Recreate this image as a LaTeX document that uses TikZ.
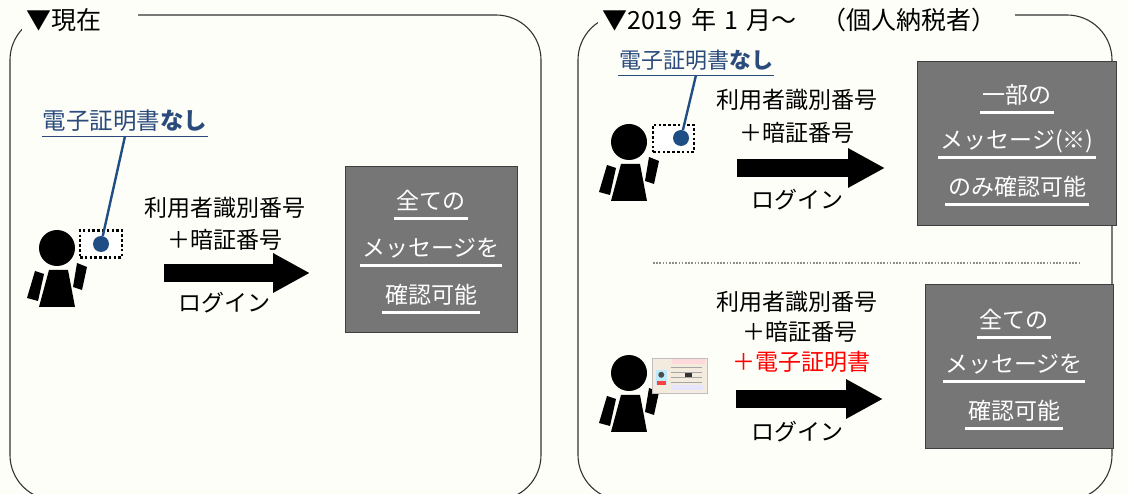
\documentclass[tikz,border=0pt]{standalone}
\usepackage{fontspec}
\setmainfont{Noto Sans CJK JP}
\usetikzlibrary{arrows.meta,positioning,calc}
\definecolor{pagebg}{HTML}{FEFEF8}
\definecolor{framegray}{HTML}{333333}
\definecolor{boxgray}{HTML}{767676}
\definecolor{boxedge}{HTML}{3F3F3F}
\definecolor{certblue}{HTML}{2A4B7C}
\definecolor{dotblue}{HTML}{1F4E85}
\definecolor{cardbeige}{HTML}{F3EBDD}
\definecolor{sepgray}{HTML}{8C8C8C}

\begin{document}
\begin{tikzpicture}[
  x=1pt, y=-1pt,
  frame/.style={draw=framegray, line width=1.1pt, rounded corners=45pt},
  heading/.style={fill=pagebg, inner sep=4pt, anchor=west, align=left, font=\fontsize{25}{28}\selectfont, text height=20pt, text depth=5pt},
  flowtext/.style={font=\fontsize{23}{26}\selectfont, inner sep=2pt},
  msgbox/.style={draw=boxedge, fill=boxgray, line width=0.8pt, inner sep=0pt},
  boxtext/.style={text=white, font=\fontsize{23}{26}\selectfont, text height=19pt, text depth=4pt, inner xsep=2.5pt, inner ysep=4.5pt},
  uline/.style={draw=white, line width=3pt},
  bigarrow/.style={line width=18pt, -{Triangle[length=37pt, width=37pt]}},
  cardslot/.style={draw=black, fill=white, line width=2.6pt, dash pattern=on 2.6pt off 2.2pt, inner sep=0pt},
  certdot/.style={circle, fill=dotblue, inner sep=0pt, minimum size=16pt},
  certlabel/.style={text=certblue, font=\fontsize{22}{25}\selectfont, text height=18pt, text depth=4pt, inner xsep=1pt, inner ysep=2pt},
  certline/.style={draw=dotblue, line width=2.4pt},
  person/.pic={
    \fill (0,0) circle (18);
    \fill (-8,22) -- (11,22) -- (18,59) -- (-18,59) -- cycle;
    \fill (-22,23) -- (-13,26) -- (-19,53) -- (-30,50) -- cycle;
    \fill (20,15) -- (30,19) -- (25,42) -- (16,39) -- cycle;
  }
]
  \useasboundingbox (0,0) rectangle (1128,494);
  \clip (0,0) rectangle (1128,494);
  \fill[pagebg] (0,0) rectangle (1128,494);

  % Two panels
  \draw[frame] (10,15) rectangle (541,500);
  \draw[frame] (578,15) rectangle (1112,500);
  \node[heading, text width=108pt] (titleA) at (22,22) {▼現在};
  \node[heading, text width=409pt] (titleB) at (598,22) {▼2019 年 1 月～　（個人納税者）};

  % Left panel: login without certificate
  \pic at (57,248) {person};
  \node[cardslot, minimum width=42pt, minimum height=27pt] (slotA) at (101,244) {};
  \node[certdot] (dotA) at (101,244) {};
  \node[certlabel, font=\fontsize{23.5}{26}\selectfont] (certA) at (125,123) {電子証明書\textbf{なし}};
  \draw[certblue, line width=1.3pt] (certA.south west) -- (certA.south east);
  \draw[certline] (dotA) -- (certA.south);

  \node[flowtext] (idA) at (225,208) {利用者識別番号};
  \node[flowtext] (pwA) at (225,240) {＋暗証番号};
  \coordinate (arrA0) at (164,273);
  \coordinate (arrA1) at (310,273);
  \draw[bigarrow] (arrA0) -- (arrA1);
  \node[flowtext] (loginA) at (224,303) {ログイン};

  \node[msgbox, minimum width=172pt, minimum height=166pt] (msgA) at (431,249) {};
  \node[boxtext] (msgA1) at (431,202) {全ての};
  \node[boxtext] (msgA2) at (431,249) {メッセージを};
  \node[boxtext] (msgA3) at (431,296) {確認可能};
  \foreach \n in {msgA1,msgA2,msgA3}
    \draw[uline] (\n.south west) -- (\n.south east);

  % Right panel, upper half: without certificate
  \pic at (629,142) {person};
  \node[cardslot, minimum width=41pt, minimum height=27pt] (slotB) at (673.5,138.5) {};
  \node[certdot] (dotB) at (681,138) {};
  \node[certlabel] (certB) at (696,62) {電子証明書\textbf{なし}};
  \draw[certblue, line width=1.3pt] (certB.south west) -- (certB.south east);
  \draw[certline] (dotB) -- (certB.south);

  \node[flowtext] (idB) at (797,100) {利用者識別番号};
  \node[flowtext] (pwB) at (797,133) {＋暗証番号};
  \coordinate (arrB0) at (737,168);
  \coordinate (arrB1) at (885,168);
  \draw[bigarrow] (arrB0) -- (arrB1);
  \node[flowtext] (loginB) at (797,200) {ログイン};

  \node[msgbox, minimum width=199pt, minimum height=164pt] (msgB) at (1016.5,143) {};
  \node[boxtext] (msgB1) at (1017,96) {一部の};
  \node[boxtext] (msgB2) at (1017,141) {メッセージ(※)};
  \node[boxtext] (msgB3) at (1017,188) {のみ確認可能};
  \foreach \n in {msgB1,msgB2,msgB3}
    \draw[uline] (\n.south west) -- (\n.south east);

  % divider
  \coordinate (sep0) at (653,263);
  \coordinate (sep1) at (1080,263);
  \draw[sepgray, line width=1.3pt, dash pattern=on 1.6pt off 1.6pt] (sep0) -- (sep1);

  % Right panel, lower half: with certificate card
  \pic at (629,373) {person};
  \node[draw=black!25, fill=cardbeige, line width=0.4pt, minimum width=55pt, minimum height=35pt, inner sep=0pt] (cardC) at (679.5,375.5) {};
  \fill[pink!60] ($(cardC.north west)+(20,1)$) rectangle ($(cardC.north east)+(-2,6)$);
  \fill[cyan!25] ($(cardC.north west)+(4,12)$) rectangle ($(cardC.north west)+(15,27)$);
  \fill[black!70] ($(cardC.north west)+(9.5,17)$) circle (3);
  \fill[red!75] ($(cardC.north west)+(5,23)$) rectangle ($(cardC.north west)+(14,27)$);
  \foreach \yy in {9,14,19,24}
    \draw[black!35, line width=0.5pt] ($(cardC.north west)+(19,\yy)$) -- ($(cardC.north west)+(50,\yy)$);
  \fill[black!80] ($(cardC.north west)+(33,15)$) rectangle ($(cardC.north west)+(40,19)$);
  \fill[blue!10] ($(cardC.north west)+(19,27)$) rectangle ($(cardC.north west)+(51,32)$);

  \node[flowtext] (idC) at (797,302) {利用者識別番号};
  \node[flowtext] (pwC) at (800,332) {＋暗証番号};
  \node[flowtext, text=red] (certC) at (801,362) {＋電子証明書};
  \coordinate (arrC0) at (736,399);
  \coordinate (arrC1) at (883,399);
  \draw[bigarrow] (arrC0) -- (arrC1);
  \node[flowtext] (loginC) at (797,432) {ログイン};

  \node[msgbox, minimum width=188pt, minimum height=164pt] (msgC) at (1019,366) {};
  \node[boxtext] (msgC1) at (1014,321) {全ての};
  \node[boxtext] (msgC2) at (1014,365) {メッセージを};
  \node[boxtext] (msgC3) at (1014,412) {確認可能};
  \foreach \n in {msgC1,msgC2,msgC3}
    \draw[uline] (\n.south west) -- (\n.south east);
\end{tikzpicture}
\end{document}
